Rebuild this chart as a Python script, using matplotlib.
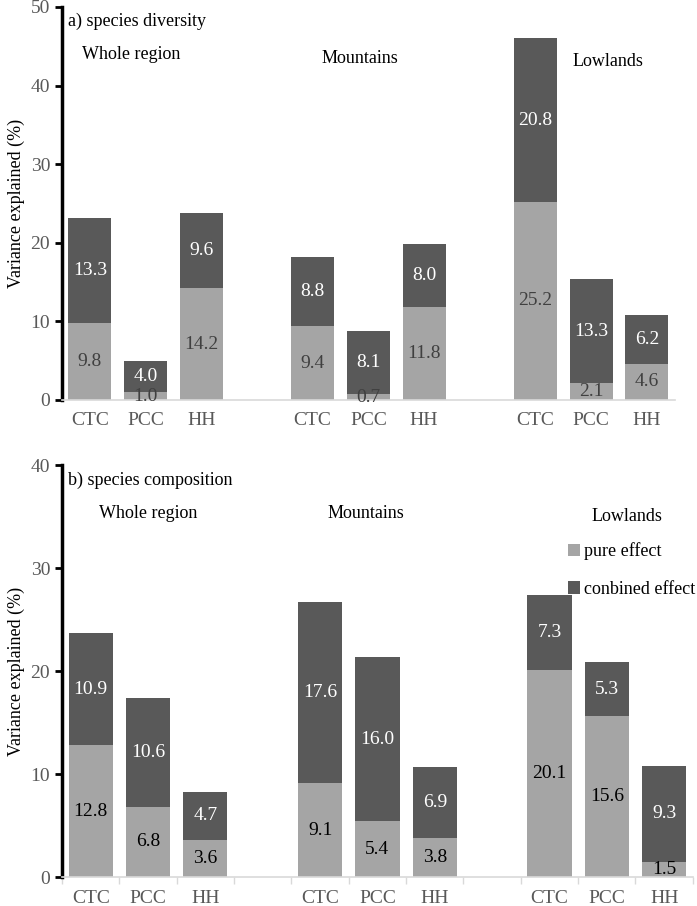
import numpy as np
import matplotlib.pyplot as plt

plt.rcParams['font.family'] = ['Liberation Serif', 'DejaVu Serif']

# categories
predictors = ["CTC", "PCC", "HH"]
regions = ["Whole region", "Mountains", "Lowlands"]

# a) species diversity (per region: CTC, PCC, HH)
div_pure = [[9.8, 1.0, 14.2], [9.4, 0.7, 11.8], [25.2, 2.1, 4.6]]
div_comb = [[13.3, 4.0, 9.6], [8.8, 8.1, 8.0], [20.8, 13.3, 6.2]]

# b) species composition
comp_pure = [[12.8, 6.8, 3.6], [9.1, 5.4, 3.8], [20.1, 15.6, 1.5]]
comp_comb = [[10.9, 10.6, 4.7], [17.6, 16.0, 6.9], [7.3, 5.3, 9.3]]

light = "#A5A5A5"
dark = "#595959"
tickgrey = "#595959"

fig = plt.figure(figsize=(6.97, 9.06), dpi=100)
ax1 = fig.add_axes([0.089, 0.5585, 0.879, 0.4338])
ax2 = fig.add_axes([0.089, 0.0320, 0.905, 0.4547])

# x positions: 3 bars per group, one empty slot between groups
x = np.array([g * 4 + k for g in range(3) for k in range(3)])
labels = predictors * 3


def draw(ax, pure, comb, ymax, pure_txt, title, reg_pos, legend=False):
    p = np.array(pure).ravel()
    c = np.array(comb).ravel()
    ax.bar(x, p, width=0.77, color=light, label="pure effect")
    ax.bar(x, c, width=0.77, bottom=p, color=dark, label="conbined effect")
    for xi, pi, ci in zip(x, p, c):
        ax.text(xi, pi / 2, f"{pi:.1f}", ha="center", va="center",
                fontsize=14, color=pure_txt)
        ax.text(xi, pi + ci / 2, f"{ci:.1f}", ha="center", va="center",
                fontsize=14, color="white")
    ax.set_xlim(-0.5, 10.5)
    ax.set_ylim(0, ymax)
    ax.set_yticks(np.arange(0, ymax + 1, 10))
    ax.set_xticks(x)
    ax.set_xticklabels(labels)
    for s in ["top", "right"]:
        ax.spines[s].set_visible(False)
    ax.spines["left"].set_linewidth(2.5)
    ax.spines["left"].set_color("black")
    ax.spines["bottom"].set_color("#D9D9D9")
    ax.spines["bottom"].set_linewidth(1.2)
    ax.tick_params(axis="y", length=5, width=2, color="black",
                   labelsize=14, labelcolor=tickgrey)
    ax.tick_params(axis="x", length=0, labelsize=14, labelcolor=tickgrey, pad=9)
    ax.set_ylabel("Variance explained (%)", fontsize=13)
    ax.text(0.01, 0.985, title, transform=ax.transAxes, fontsize=13,
            va="top", ha="left")
    for name, (rx, ry) in zip(regions, reg_pos):
        ax.text(rx, ry, name, fontsize=13, ha="center", va="center")
    if legend:
        ax.legend(loc="upper left", bbox_to_anchor=(0.79, 0.83), frameon=False,
                  fontsize=13, handlelength=0.7, handleheight=0.7,
                  handletextpad=0.2, labelspacing=1.15, borderaxespad=0)


draw(ax1, div_pure, div_comb, 50, "#404040", "a) species diversity",
     [(0.75, 43.9), (4.85, 43.5), (9.3, 43.1)])
draw(ax2, comp_pure, comp_comb, 40, "black", "b) species composition",
     [(1.0, 35.3), (4.8, 35.3), (9.35, 35.0)], legend=True)

# minor ticks between categories on panel b
ax2.set_xticks(np.arange(-0.5, 11, 1), minor=True)
ax2.tick_params(axis="x", which="minor", length=5, width=1, color="#D9D9D9",
                direction="out")

fig.savefig("out.png", dpi=100)
